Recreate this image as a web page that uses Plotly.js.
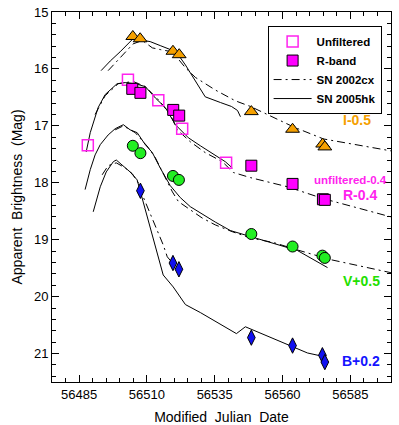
<!DOCTYPE html>
<html>
<head>
<meta charset="utf-8">
<script src="https://cdn.plot.ly/plotly-3.0.1.min.js"></script>
<style>html,body{margin:0;padding:0;background:#fff;}#chart{width:399px;height:425px;}</style>
</head>
<body>
<div id="chart"></div>
<script>
// ---- observed photometry ----
const unfX = [56488.2, 56503.0, 56514.2, 56523.0, 56539.2];
const unfY = [17.34, 16.19, 16.55, 17.05, 17.65];
const rX = [56504.6, 56507.6, 56519.7, 56521.9, 56548.5, 56563.7, 56574.9, 56575.6];
const rY = [16.35, 16.42, 16.72, 16.82, 17.70, 18.02, 18.29, 18.30];
const iX = [56504.8, 56507.5, 56519.6, 56521.9, 56548.5, 56563.7, 56574.8, 56575.6];
const iY = [15.43, 15.47, 15.69, 15.75, 16.75, 17.06, 17.32, 17.37];
const vX = [56504.8, 56507.6, 56519.6, 56521.8, 56548.5, 56563.7, 56574.7, 56575.6];
const vY = [17.35, 17.48, 17.88, 17.95, 18.90, 19.12, 19.28, 19.32];
const bX = [56507.6, 56519.6, 56521.8, 56548.5, 56563.7, 56574.7, 56575.6];
const bY = [18.14, 19.41, 19.52, 20.72, 20.86, 21.03, 21.15];

// ---- SN 2005hk template curves (solid) ----
const hkIX = [56493.1, 56496.5, 56500.1, 56503.1, 56505.3, 56507.5, 56511.2, 56514.9, 56518.6, 56520.8, 56524.2, 56527.9, 56531.5, 56537.1, 56541.2, 56543.4, 56544.5];
const hkIY = [16.03, 15.86, 15.70, 15.56, 15.45, 15.49, 15.52, 15.59, 15.66, 15.70, 15.93, 16.22, 16.49, 16.59, 16.66, 16.73, 16.84];
const hkRX = [56487.6, 56489.1, 56492.0, 56494.6, 56499.0, 56502.0, 56505.7, 56509.4, 56513.1, 56516.8, 56520.5, 56525.3, 56529.7, 56535.2, 56538.9, 56541.5];
const hkRY = [17.46, 17.12, 16.68, 16.45, 16.26, 16.24, 16.26, 16.31, 16.51, 16.68, 16.98, 17.21, 17.35, 17.51, 17.63, 17.74];
const hkVX = [56487.2, 56489.1, 56490.9, 56492.8, 56495.7, 56498.3, 56501.3, 56503.8, 56506.4, 56509.4, 56512.0, 56514.9, 56518.6, 56522.3, 56526.0, 56529.7, 56535.2, 56540.8, 56554.4, 56565.5, 56576.6];
const hkVY = [18.12, 17.77, 17.51, 17.33, 17.16, 17.05, 16.98, 17.07, 17.12, 17.33, 17.47, 17.74, 18.05, 18.26, 18.42, 18.53, 18.69, 18.84, 19.04, 19.19, 19.49];
const hkBX = [56490.2, 56492.8, 56495.0, 56497.6, 56498.7, 56501.3, 56503.8, 56506.4, 56507.9, 56509.8, 56516.0, 56519.7, 56524.2, 56529.7, 56543.0, 56546.3, 56563.7, 56569.2, 56575.9];
const hkBY = [18.51, 18.07, 17.81, 17.63, 17.60, 17.70, 17.81, 17.95, 18.21, 18.51, 19.62, 19.83, 20.14, 20.28, 20.65, 20.53, 20.88, 20.99, 21.06];

// ---- SN 2002cx template curves (dash-dot) ----
const cxIX = [56495.7, 56500.1, 56504.9, 56508.3, 56512.0, 56514.9, 56519.4, 56524.2, 56527.9, 56535.2, 56542.6, 56548.2, 56564.1, 56575.1, 56600.0];
const cxIY = [16.03, 15.80, 15.56, 15.50, 15.63, 15.66, 15.70, 15.98, 16.15, 16.37, 16.56, 16.66, 17.02, 17.23, 17.44];
const cxRX = [56490.9, 56494.6, 56499.4, 56504.9, 56509.4, 56514.2, 56518.6, 56521.2, 56526.0, 56531.5, 56537.8, 56541.9, 56548.2, 56561.8, 56575.1, 56600.0];
const cxRY = [16.80, 16.47, 16.26, 16.22, 16.31, 16.54, 16.80, 17.07, 17.28, 17.47, 17.63, 17.82, 17.91, 18.07, 18.28, 18.60];
const cxVX = [56498.3, 56501.3, 56505.7, 56510.5, 56513.1, 56515.7, 56519.4, 56521.6, 56526.0, 56530.4, 56535.2, 56541.5, 56548.2, 56556.7, 56565.5, 56577.7, 56600.0];
const cxVY = [17.07, 17.00, 17.12, 17.38, 17.56, 17.81, 18.16, 18.33, 18.47, 18.62, 18.74, 18.86, 18.97, 19.05, 19.18, 19.35, 19.58];
const cxBX = [56493.5, 56495.7, 56498.7, 56502.0, 56504.6, 56506.8, 56508.3, 56512.0, 56514.2, 56516.0, 56517.5, 56519.4];
const cxBY = [17.86, 17.70, 17.65, 17.74, 17.84, 18.00, 18.21, 18.62, 18.86, 19.09, 19.30, 19.41];

// ---- band labels ----
const labelText = ['I-0.5', 'unfiltered-0.4', 'R-0.4', 'V+0.5', 'B+0.2'];
const labelColor = ['#F5A000', '#FF22EE', '#FF22EE', '#22E000', '#1414FF'];

const FONT = '"Liberation Sans", Arial, Helvetica, sans-serif';
const DASHDOT = '8px,4px,2px,4px';

const traces = [];
const hk = [[hkIX, hkIY], [hkRX, hkRY], [hkVX, hkVY], [hkBX, hkBY]];
const cx = [[cxIX, cxIY], [cxRX, cxRY], [cxVX, cxVY], [cxBX, cxBY]];
cx.forEach((c, k) => traces.push({
  x: c[0], y: c[1], type: 'scatter', mode: 'lines', name: 'SN 2002cx',
  line: {color: '#000', width: 1, dash: DASHDOT},
  legendgroup: 'cx', showlegend: k === 0, legendrank: 3
}));
hk.forEach((c, k) => traces.push({
  x: c[0], y: c[1], type: 'scatter', mode: 'lines', name: 'SN 2005hk',
  line: {color: '#000', width: 1},
  legendgroup: 'hk', showlegend: k === 0, legendrank: 4
}));

traces.push({x: iX, y: iY, type: 'scatter', mode: 'markers', showlegend: false,
  marker: {symbol: 'triangle-up', size: 12, color: '#F5A000', line: {color: '#000', width: 1}}});
traces.push({x: vX, y: vY, type: 'scatter', mode: 'markers', showlegend: false,
  marker: {symbol: 'circle', size: 11, color: '#22EE22', line: {color: '#000', width: 1}}});
traces.push({x: bX, y: bY, type: 'scatter', mode: 'markers', showlegend: false,
  marker: {symbol: 'diamond-tall', size: 11, color: '#1010F0', line: {color: '#000', width: 1}}});
traces.push({x: unfX, y: unfY, type: 'scatter', mode: 'markers', name: 'Unfiltered', legendrank: 1,
  marker: {symbol: 'square-open', size: 11, color: '#FF22EE', line: {color: '#FF22EE', width: 1.5}}});
traces.push({x: rX, y: rY, type: 'scatter', mode: 'markers', name: 'R-band', legendrank: 2,
  marker: {symbol: 'square', size: 11, color: '#FF00FF', line: {color: '#000', width: 1}}});

const labelPos = [[0.899, 0.708], [0.881, 0.546], [0.908, 0.505], [0.912, 0.273], [0.912, 0.057]];
const labelSize = [14, 11.5, 14, 14, 14];
const annotations = labelText.map((t, k) => ({
  text: '<b>' + t + '</b>', xref: 'paper', yref: 'paper',
  x: labelPos[k][0], y: labelPos[k][1], xanchor: 'center', yanchor: 'middle',
  showarrow: false, font: {family: FONT, size: labelSize[k], color: labelColor[k]}
}));

const axisCommon = {
  showgrid: false, zeroline: false, showline: true, linecolor: '#000', linewidth: 1,
  mirror: 'allticks', ticks: 'inside', ticklen: 7, tickwidth: 1, tickcolor: '#000',
  tickfont: {family: FONT, size: 13, color: '#000'}
};

const layout = {
  width: 399, height: 425,
  margin: {l: 52, r: 8, t: 12, b: 43},
  paper_bgcolor: '#fff', plot_bgcolor: '#fff',
  font: {family: FONT, color: '#000'},
  xaxis: Object.assign({}, axisCommon, {
    range: [56475, 56600], tick0: 56485, dtick: 25, tickformat: 'd',
    minor: {dtick: 5, tick0: 56485, ticks: 'inside', ticklen: 4, tickcolor: '#000', showgrid: false},
    title: {text: 'Modified\u00a0 Julian\u00a0 Date', font: {family: FONT, size: 14, color: '#000'}, standoff: 14}
  }),
  yaxis: Object.assign({}, axisCommon, {
    range: [21.5, 15], tick0: 15, dtick: 1, tickformat: 'd',
    minor: {dtick: 0.2, tick0: 15, ticks: 'inside', ticklen: 4, tickcolor: '#000', showgrid: false},
    title: {text: 'Apparent\u00a0 Brightness\u00a0 (Mag)', font: {family: FONT, size: 14, color: '#000'}, standoff: 8}
  }),
  legend: {
    x: 0.636, y: 0.962, xanchor: 'left', yanchor: 'top',
    bgcolor: '#fff', bordercolor: '#000', borderwidth: 1,
    font: {family: FONT, size: 11.5, color: '#000', weight: 'bold'},
    itemwidth: 38, tracegroupgap: 0, traceorder: 'normal'
  },
  annotations: annotations,
  showlegend: true
};

Plotly.newPlot('chart', traces, layout, {displayModeBar: false, staticPlot: true});
</script>
</body>
</html>
